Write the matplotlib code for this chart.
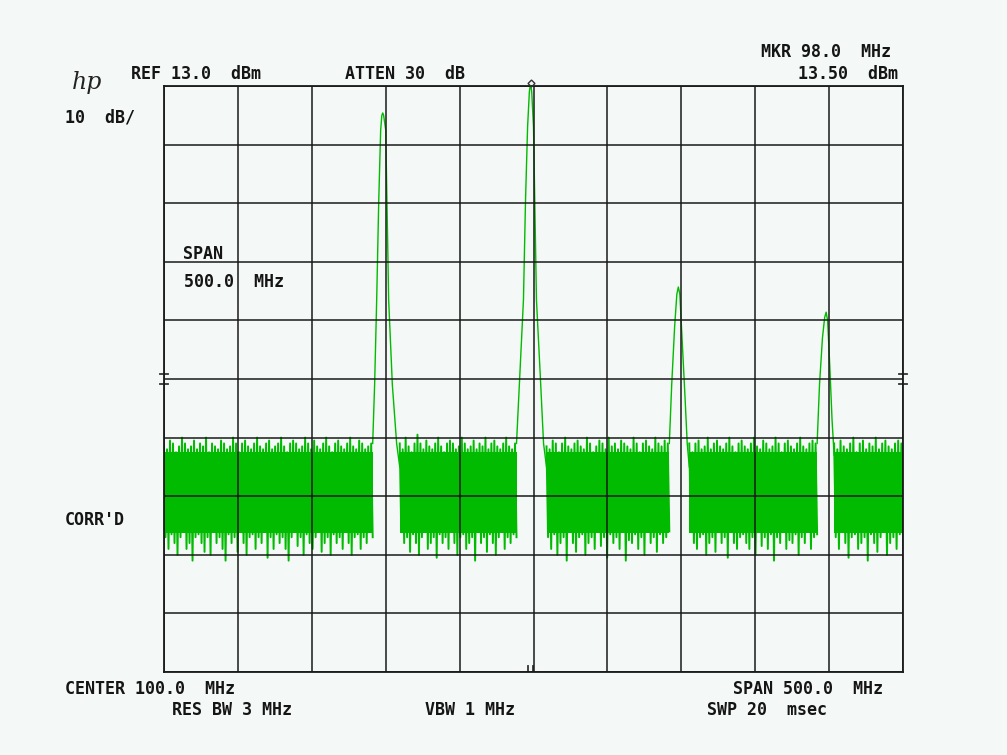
import numpy as np
import matplotlib.pyplot as plt

# analyzer settings
center_mhz = 100.0
span_mhz = 500.0
ref_dbm = 13.0
db_per_div = 10.0

# noise floor segments (start MHz, end MHz)
seg_edges = [(-150.0, -8.8), (9.5, 88.5), (108.8, 191.9), (205.4, 291.9), (303.4, 350.0)]
# dense part of the noise band (dBm)
core_top = -49.5
core_bot = -63.3
# peak-detected noise excursions, upper and lower, per segment (dBm)
top_a = [-48.5, -49, -47.5, -48, -49.5, -48.5, -47, -48, -49, -48.5, -47.5, -49, -48, -48.5, -47, -49.5, -48, -48.5,
         -49, -47.5, -48, -49, -48.5, -47, -48, -49.5, -48, -47.5, -48.5, -49, -48, -47, -48.5, -49, -48, -47.5,
         -49, -48.5, -48, -47, -48.5, -49.5, -48, -47.5, -48, -49, -48.5, -47, -48, -49, -47.5, -48.5, -49, -48,
         -47, -48.5, -49.5, -48, -47.5, -48.5, -49, -48, -47, -48.5, -49, -47.5, -48, -49, -48.5, -48]
bot_a = [-64, -66, -63.5, -65, -67, -64, -63, -66, -65, -68, -64, -63.5, -65, -66.5, -64, -67, -63, -65,
         -64, -66, -68, -63.5, -65, -64, -66.5, -63, -65, -67, -64, -63.5, -66, -64, -65, -63, -67.5, -64,
         -66, -63.5, -65, -64, -66, -68, -64, -63, -65.5, -64, -67, -63.5, -65, -66, -64, -63, -66.5, -65,
         -64, -67, -63.5, -65, -64, -66, -63, -65, -67, -64, -63.5, -66, -64, -65, -63, -64]
top_b = [-48, -49, -47, -48.5, -49.5, -48, -46.5, -48, -49, -47.5, -48.5, -49, -48, -47, -48.5, -49.5, -48, -47.5,
         -48, -49, -48.5, -47, -48, -49, -48.5, -47.5, -49, -48, -48.5, -47, -49, -48, -47.5, -48.5, -49, -48,
         -47, -48.5, -49, -48]
bot_b = [-63, -65, -64, -66.5, -63.5, -65, -67, -64, -63, -66, -65, -64, -67.5, -63.5, -65, -64, -66, -63,
         -65, -67, -64, -63.5, -66, -65, -64, -68, -63, -65, -64, -66.5, -63.5, -65, -67, -64, -63, -66,
         -64, -65, -63.5, -64]
top_c = [-48.5, -49, -47.5, -48, -49.5, -48, -47, -48.5, -49, -48, -47.5, -48.5, -49, -47, -48, -49.5, -48.5, -47.5,
         -48, -49, -47, -48.5, -48, -49, -47.5, -48, -48.5, -49, -47, -48, -49.5, -48, -47.5, -48.5, -49, -47,
         -48, -48.5, -47.5, -48]
bot_c = [-64, -66, -63.5, -67, -65, -64, -68, -63, -65, -66.5, -64, -63.5, -67, -65, -64, -66, -63, -65.5,
         -64, -67.5, -63.5, -65, -64, -66, -63, -68, -64.5, -65, -63.5, -66, -64, -67, -63, -65, -64, -66.5,
         -63.5, -65, -64, -63]
top_d = [-48, -49.5, -48, -47.5, -49, -48.5, -47, -49, -48, -47.5, -48.5, -49, -48, -47, -48.5, -49.5, -48, -47.5,
         -48.5, -49, -48, -47, -48.5, -49, -47.5, -48, -49, -48.5, -47, -48, -49.5, -48, -47.5, -48.5, -49, -48,
         -47, -48.5, -49, -48, -47.5, -48]
bot_d = [-63, -65, -66, -64, -63.5, -67, -65, -64, -66.5, -63, -65, -64, -67.5, -63, -65, -66, -64, -63.5,
         -65, -66, -64, -67, -63, -65.5, -64, -66, -63.5, -68, -64, -65, -63, -66, -64.5, -65, -63.5, -67,
         -64, -65, -63, -66, -64, -63.5]
top_e = [-48, -49, -47.5, -48.5, -49, -48, -47, -49.5, -48, -47.5, -49, -48, -48.5, -47, -49, -48, -47.5, -48.5,
         -49, -48, -47.5, -48]
bot_e = [-64, -66, -63, -65, -67.5, -64, -63.5, -66, -65, -64, -68, -63.5, -65, -66.5, -64, -63, -67, -65,
         -64, -66, -63.5, -64]

# signal peaks (MHz, dBm)
peak1_f = [-8.8, -7.5, -6.1, -4.7, -3.4, -2.6, -2.0, -1.4, 0.0, 2.0, 4.5, 7.4, 9.5]
peak1_db = [-48, -38, -23.5, -6.5, 5.5, 8.0, 8.4, 8.0, 5.5, -23.5, -38, -48, -52]
peak2_f = [88.5, 91.0, 93.2, 94.6, 96.0, 97.2, 98.0, 98.8, 100.0, 102.0, 104.5, 106.8, 108.8]
peak2_db = [-48, -35, -23.5, -6.5, 6.0, 12.0, 13.5, 12.0, 6.0, -23.5, -36, -48, -52]
peak3_f = [191.9, 193.5, 195.5, 197.0, 198.0, 199.0, 200.5, 202.5, 204.0, 205.4]
peak3_db = [-48, -38, -28, -22.5, -21.3, -22.5, -30, -40, -48, -52]
peak4_f = [291.9, 293.5, 295.5, 297.0, 298.0, 299.0, 300.5, 302.0, 303.4]
peak4_db = [-48, -38, -30, -26.5, -25.6, -27, -35, -44, -50]

marker_f = 98.0
marker_db = 13.5

green = '#00bb00'
bg = '#f4f8f6'
W, H = 1007, 755


def label(fig, x, y, s, ha='left'):
    fig.text(x / W, 1 - y / H, s, ha=ha, va='center', fontsize=12, fontweight='bold',
             family='DejaVu Sans Mono', color='#151515')


def noise(axis, f0, f1, top, bot):
    # dense core, then the trace zig-zags between upper and lower excursions
    axis.fill_between([f0, f1], core_bot, core_top, color=green, lw=0, zorder=2)
    fx = np.linspace(f0, f1, 2 * len(top))
    fy = np.ravel(np.column_stack([top, bot]))
    axis.plot(fx, fy, color=green, lw=1.4, zorder=2)


fig = plt.figure(figsize=(W / 100, H / 100), dpi=100, facecolor=bg)
ax = fig.add_axes([164 / W, 1 - 672 / H, 739 / W, 586 / H], facecolor=bg)

f_lo = center_mhz - span_mhz / 2
f_hi = center_mhz + span_mhz / 2
bottom = ref_dbm - 10 * db_per_div
ax.set_xlim(f_lo, f_hi)
ax.set_ylim(bottom, ref_dbm)

for (f0, f1), top, bot in zip(seg_edges, [top_a, top_b, top_c, top_d, top_e],
                              [bot_a, bot_b, bot_c, bot_d, bot_e]):
    noise(ax, f0, f1, top, bot)

for pf, pd in [(peak1_f, peak1_db), (peak2_f, peak2_db), (peak3_f, peak3_db), (peak4_f, peak4_db)]:
    ax.plot(pf, pd, color=green, lw=1.0, zorder=2)

ax.set_xticks(np.linspace(f_lo, f_hi, 11))
ax.set_yticks(np.linspace(bottom, ref_dbm, 11))
ax.grid(True, color='#1a1a1a', lw=1.1, zorder=3)
ax.set_axisbelow(False)
ax.tick_params(length=0, labelbottom=False, labelleft=False)
for sp in ax.spines.values():
    sp.set_color('#1a1a1a')
    sp.set_linewidth(1.3)

# marker and edge marks
ax.plot([marker_f], [marker_db], marker='D', ms=3.5, mfc='none', mec='#333333', clip_on=False, zorder=5)
mid_db = ref_dbm - 5 * db_per_div
for yy in [mid_db + 0.8, mid_db - 0.8]:
    ax.plot([f_lo - 3, f_lo + 3], [yy, yy], color='#333333', lw=1.3, clip_on=False)
    ax.plot([f_hi - 3, f_hi + 3], [yy, yy], color='#333333', lw=1.3, clip_on=False)
for xx in [marker_f - 1.5, marker_f + 1.5]:
    ax.plot([xx, xx], [bottom, bottom + 1.0], color='#333333', lw=1.3)

# hp logo
fig.text(72 / W, 1 - 82 / H, 'hp', fontsize=17, style='italic', family='DejaVu Serif',
         color='#222222', va='center', ha='left', fontweight='light')

label(fig, 131, 74, 'REF 13.0  dBm')
label(fig, 345, 74, 'ATTEN 30  dB')
label(fig, 761, 52, 'MKR 98.0  MHz')
label(fig, 898, 74, '13.50  dBm', ha='right')
label(fig, 65, 117, '10  dB/')
label(fig, 183, 254, 'SPAN')
label(fig, 184, 282, '500.0  MHz')
label(fig, 65, 520, "CORR'D")
label(fig, 65, 689, 'CENTER 100.0  MHz')
label(fig, 172, 710, 'RES BW 3 MHz')
label(fig, 425, 710, 'VBW 1 MHz')
label(fig, 733, 689, 'SPAN 500.0  MHz')
label(fig, 707, 710, 'SWP 20  msec')

fig.savefig('out.png', dpi=100, facecolor=bg)
